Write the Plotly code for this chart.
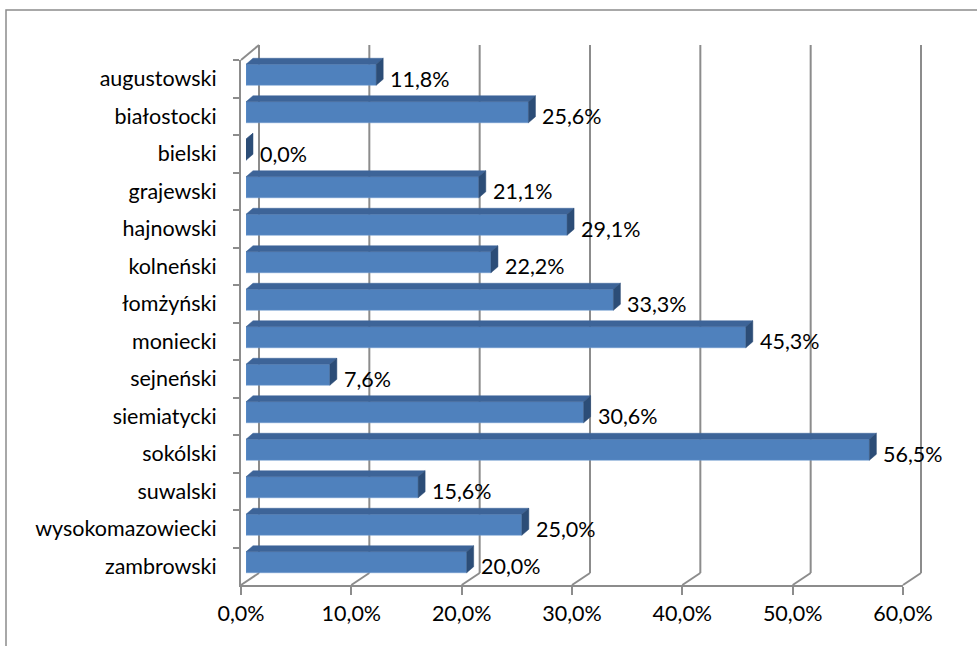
import plotly.graph_objects as go

# ---------------- data ----------------
categories = ["augustowski", "białostocki", "bielski", "grajewski", "hajnowski",
              "kolneński", "łomżyński", "moniecki", "sejneński", "siemiatycki",
              "sokólski", "suwalski", "wysokomazowiecki", "zambrowski"]
values = [0.118, 0.256, 0.000, 0.211, 0.291, 0.222, 0.333, 0.453, 0.076,
          0.306, 0.565, 0.156, 0.250, 0.200]
x_ticks = [0.0, 0.1, 0.2, 0.3, 0.4, 0.5, 0.6]

# ---------------- geometry (pixels) ----------------
W, H = 977, 646
FX0, FX1 = 241, 903          # front plane x extent (0 .. 60%)
FY0, FY1 = 60, 585           # front plane y extent (top .. bottom)
XMAX = 0.6
BACK_DX, BACK_DY = 18, -12   # depth of walls
BAR_DX, BAR_DY = 5, -4       # bar front face offset
DEP_DX, DEP_DY = 7, -6       # bar depth
BAR_H = 21                   # bar front face height px

GRID = "#8c8c8c"
FRONT = "#4f81bd"
TOP = "#3d6498"
SIDE = "#2c4d77"
FONT = "Lato"
FSIZE = 21.5

n = len(categories)
px_per_x = (FX1 - FX0) / XMAX
px_per_cat = (FY1 - FY0) / n


def px(x):
    return x / W


def py(y):
    return 1 - y / H


fig = go.Figure()

# front subplot: category axis + value axis
fig.add_trace(go.Scatter(x=[0] * n, y=categories, mode="markers",
                         marker=dict(opacity=0), hoverinfo="skip",
                         showlegend=False, xaxis="x", yaxis="y"))

# bar subplot (shifted plane)
idx = list(range(n))
bw = BAR_H / px_per_cat
fig.add_trace(go.Bar(x=values, y=idx, orientation="h", width=bw,
                     marker=dict(color=FRONT, line=dict(color="#6f9bd0", width=0.5)),
                     xaxis="x2", yaxis="y2", showlegend=False, hoverinfo="skip"))

ddx = DEP_DX / px_per_x
ddy = DEP_DY / px_per_cat  # negative -> upward on reversed axis
top_x, top_y, side_x, side_y = [], [], [], []
for i, v in enumerate(values):
    yt = i - bw / 2
    yb = i + bw / 2
    top_x += [0, v, v + ddx, ddx, 0, None]
    top_y += [yt, yt, yt + ddy, yt + ddy, yt, None]
    side_x += [v, v + ddx, v + ddx, v, v, None]
    side_y += [yt, yt + ddy, yb + ddy, yb, yt, None]

fig.add_trace(go.Scatter(x=top_x, y=top_y, mode="lines", fill="toself",
                         fillcolor=TOP, line=dict(color=TOP, width=0.5),
                         xaxis="x2", yaxis="y2", showlegend=False, hoverinfo="skip"))
fig.add_trace(go.Scatter(x=side_x, y=side_y, mode="lines", fill="toself",
                         fillcolor=SIDE, line=dict(color=SIDE, width=0.5),
                         xaxis="x2", yaxis="y2", showlegend=False, hoverinfo="skip"))

# data labels
for c, v in zip(categories, values):
    txt = f"{v * 100:.1f}".replace(".", ",") + "%"
    fig.add_annotation(x=v, y=c, xref="x", yref="y", text=txt, showarrow=False,
                       xanchor="left", yanchor="middle", xshift=BAR_DX + DEP_DX + 5,
                       font=dict(family=FONT, size=FSIZE, color="black"))

# wall lines
shapes = []
for t in x_ticks:
    fx = FX0 + t * px_per_x
    bx = fx + BACK_DX
    shapes.append(dict(type="line", xref="paper", yref="paper",
                       x0=px(bx), x1=px(bx), y0=py(FY1 + BACK_DY), y1=py(45),
                       line=dict(color=GRID, width=2), layer="below"))
    shapes.append(dict(type="line", xref="paper", yref="paper",
                       x0=px(fx), x1=px(bx), y0=py(FY1), y1=py(FY1 + BACK_DY),
                       line=dict(color=GRID, width=2), layer="below"))
shapes.append(dict(type="line", xref="paper", yref="paper",
                   x0=px(FX0), x1=px(FX0 + BACK_DX), y0=py(FY0), y1=py(45),
                   line=dict(color=GRID, width=2), layer="below"))
shapes.append(dict(type="rect", xref="paper", yref="paper",
                   x0=px(6), x1=px(W + 10), y0=py(H + 10), y1=py(10),
                   line=dict(color="#8c8c8c", width=1.5), layer="below"))

fig.update_layout(
    width=W, height=H, autosize=False,
    margin=dict(l=0, r=0, t=0, b=0, pad=0, autoexpand=False),
    paper_bgcolor="white", plot_bgcolor="rgba(0,0,0,0)",
    separators=", ",
    shapes=shapes,
    xaxis=dict(domain=[px(FX0), px(FX1)], range=[0, XMAX], anchor="y",
               automargin=False,
               tickvals=x_ticks, tickformat=".1%", ticks="outside", ticklen=8,
               tickcolor=GRID, tickwidth=2, showline=True, linecolor=GRID,
               linewidth=2, showgrid=False, zeroline=False, fixedrange=True,
               tickfont=dict(family=FONT, size=FSIZE, color="black")),
    yaxis=dict(domain=[py(FY1), py(FY0)], anchor="x", type="category",
               automargin=False, range=[n - 0.5, -0.5],
               categoryorder="array", categoryarray=categories,
               tickson="boundaries", ticks="outside",
               ticklen=6, tickcolor=GRID, tickwidth=2, showline=True,
               linecolor=GRID, linewidth=2, showgrid=False, zeroline=False,
               ticklabelstandoff=18,
               tickfont=dict(family=FONT, size=FSIZE, color="black")),
    xaxis2=dict(domain=[px(FX0 + BAR_DX), px(FX1 + BAR_DX)], range=[0, XMAX],
                anchor="y2", visible=False, fixedrange=True, automargin=False),
    yaxis2=dict(domain=[py(FY1 + BAR_DY), py(FY0 + BAR_DY)], range=[n - 0.5, -0.5],
                anchor="x2", visible=False, fixedrange=True, automargin=False),
)

fig.write_html("out.html",
               config={"displayModeBar": False},
               post_script="document.body.style.margin='0px';document.body.style.overflow='hidden';")
